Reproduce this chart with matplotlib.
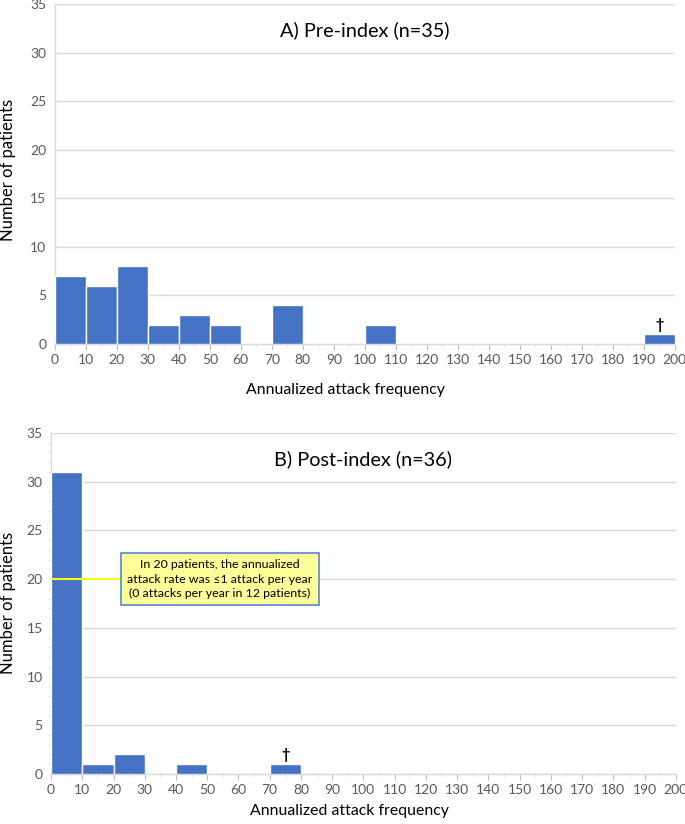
import numpy as np
import matplotlib.pyplot as plt
from matplotlib.ticker import MultipleLocator

plt.rcParams['font.family'] = ['Lato', 'DejaVu Sans']

# Datos: conteo de pacientes por intervalo de 10 (0-200)
bin_edges = np.arange(0, 201, 10)
pre_counts = [7, 6, 8, 2, 3, 2, 0, 4, 0, 0, 2, 0, 0, 0, 0, 0, 0, 0, 0, 1]
post_counts = [31, 1, 2, 0, 1, 0, 0, 1, 0, 0, 0, 0, 0, 0, 0, 0, 0, 0, 0, 0]
titles = ['A) Pre-index (n=35)', 'B) Post-index (n=36)']
dagger_x = [195, 75]
dagger_y = [1, 1]
note = ('In 20 patients, the annualized\nattack rate was \u22641 attack per year\n'
        '(0 attacks per year in 12 patients)')

bar_color = '#4472C4'
grey = '#595959'

fig = plt.figure(figsize=(6.85, 8.24), dpi=100)
ax1 = fig.add_axes([0.080, 0.5825, 0.905, 0.4126])
ax2 = fig.add_axes([0.0745, 0.0607, 0.912, 0.4138])

for ax, counts, title, dx, dy in zip([ax1, ax2], [pre_counts, post_counts],
                                     titles, dagger_x, dagger_y):
    ax.hist(bin_edges[:-1], bins=bin_edges, weights=counts, color=bar_color,
            edgecolor='white', linewidth=1.0, zorder=3)
    ax.set_xlim(0, 200)
    ax.set_ylim(0, 35)
    ax.xaxis.set_major_locator(MultipleLocator(10))
    ax.xaxis.set_minor_locator(MultipleLocator(5))
    ax.yaxis.set_major_locator(MultipleLocator(5))
    ax.grid(axis='y', color='#D9D9D9', linewidth=1.0, zorder=0)
    for s in ['top', 'right']:
        ax.spines[s].set_visible(False)
    for s in ['left', 'bottom']:
        ax.spines[s].set_color('#D9D9D9')
        ax.spines[s].set_linewidth(1.0)
    ax.tick_params(axis='x', which='major', length=4, color='#BFBFBF',
                   labelsize=10, labelcolor=grey, pad=3)
    ax.tick_params(axis='x', which='minor', length=2, color='#D9D9D9')
    ax.tick_params(axis='y', which='major', length=0, labelsize=10,
                   labelcolor=grey, pad=6)
    ax.text(100, 32.3, title, ha='center', va='center', fontsize=14.3)
    ax.text(dx, dy + 0.2, '\u2020', ha='center', va='bottom', fontsize=10.5,
            fontweight='bold')

ax2.yaxis.set_minor_locator(MultipleLocator(1))
ax2.tick_params(axis='y', which='minor', length=2, color='#D9D9D9')

# Etiquetas de ejes
fig.text(0.012, 0.7937, 'Number of patients', rotation=90, ha='center',
         va='center', fontsize=12)
fig.text(0.012, 0.268, 'Number of patients', rotation=90, ha='center',
         va='center', fontsize=12)
fig.text(0.504, 0.5267, 'Annualized attack frequency', ha='center',
         va='center', fontsize=11.4)
fig.text(0.51, 0.0158, 'Annualized attack frequency', ha='center',
         va='center', fontsize=11.4)

# Nota con linea indicadora en el panel B
ax2.plot([0, 22], [20, 20], color='#FFFF00', linewidth=1.5, zorder=4)
ax2.text(54, 20, note, ha='center', va='center', fontsize=8.9, zorder=5,
         linespacing=1.4,
         bbox=dict(boxstyle='square,pad=0.5', facecolor='#FFFF99',
                   edgecolor='#5B85D0', linewidth=1.2))

fig.savefig('out.png', dpi=100)
